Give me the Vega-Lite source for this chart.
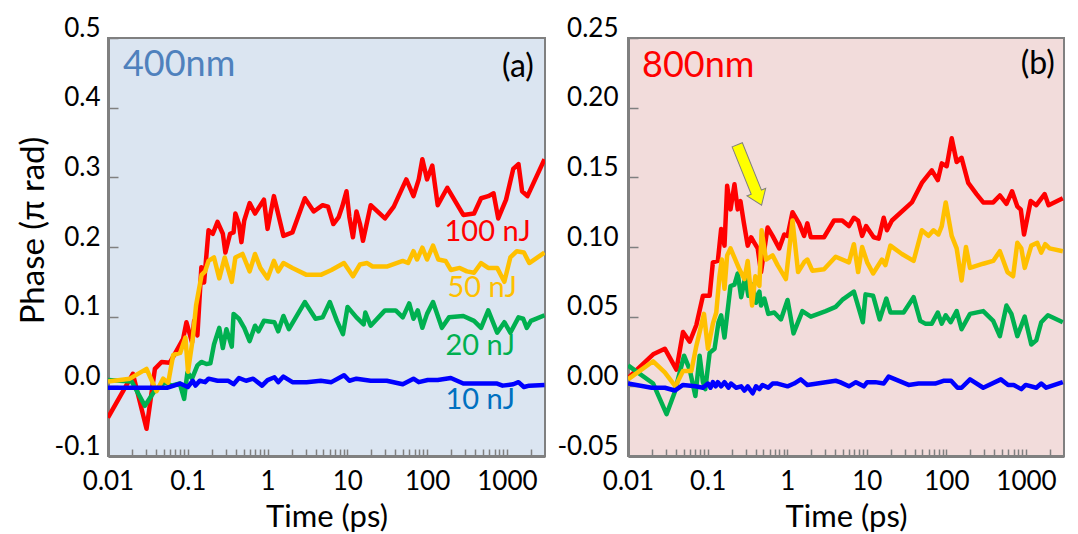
{
  "$schema": "https://vega.github.io/schema/vega-lite/v6.json",
  "padding": {"left": 16, "top": 14, "right": 5, "bottom": 0},
  "background": "white",
  "spacing": 9,
  "config": {
    "font": "Lato",
    "view": {"stroke": "#808080", "strokeWidth": 2},
    "axis": {
      "grid": false,
      "domainColor": "#808080",
      "domainWidth": 3,
      "tickColor": "#808080",
      "tickWidth": 1.5,
      "labelColor": "black",
      "titleColor": "black",
      "labelFont": "Lato",
      "titleFont": "Lato",
      "labelFontSize": 26,
      "titleFontSize": 31,
      "titleFontWeight": "normal"
    }
  },
  "datasets": {
    "curves": [
      {"panel":"400nm","series":"100 nJ","time":0.01,"phase":-0.045},
      {"panel":"400nm","series":"100 nJ","time":0.0205,"phase":0.018},
      {"panel":"400nm","series":"100 nJ","time":0.0304,"phase":-0.061},
      {"panel":"400nm","series":"100 nJ","time":0.0387,"phase":0.025},
      {"panel":"400nm","series":"100 nJ","time":0.0469,"phase":0.035},
      {"panel":"400nm","series":"100 nJ","time":0.0596,"phase":0.034},
      {"panel":"400nm","series":"100 nJ","time":0.0722,"phase":0.051},
      {"panel":"400nm","series":"100 nJ","time":0.0874,"phase":0.068},
      {"panel":"400nm","series":"100 nJ","time":0.0962,"phase":0.092},
      {"panel":"400nm","series":"100 nJ","time":0.113,"phase":0.063},
      {"panel":"400nm","series":"100 nJ","time":0.12,"phase":0.094},
      {"panel":"400nm","series":"100 nJ","time":0.132,"phase":0.073},
      {"panel":"400nm","series":"100 nJ","time":0.148,"phase":0.171},
      {"panel":"400nm","series":"100 nJ","time":0.16,"phase":0.149},
      {"panel":"400nm","series":"100 nJ","time":0.182,"phase":0.224},
      {"panel":"400nm","series":"100 nJ","time":0.206,"phase":0.219},
      {"panel":"400nm","series":"100 nJ","time":0.236,"phase":0.236},
      {"panel":"400nm","series":"100 nJ","time":0.275,"phase":0.219},
      {"panel":"400nm","series":"100 nJ","time":0.296,"phase":0.192},
      {"panel":"400nm","series":"100 nJ","time":0.339,"phase":0.219},
      {"panel":"400nm","series":"100 nJ","time":0.375,"phase":0.221},
      {"panel":"400nm","series":"100 nJ","time":0.395,"phase":0.248},
      {"panel":"400nm","series":"100 nJ","time":0.438,"phase":0.233},
      {"panel":"400nm","series":"100 nJ","time":0.47,"phase":0.207},
      {"panel":"400nm","series":"100 nJ","time":0.51,"phase":0.238},
      {"panel":"400nm","series":"100 nJ","time":0.596,"phase":0.263},
      {"panel":"400nm","series":"100 nJ","time":0.696,"phase":0.248},
      {"panel":"400nm","series":"100 nJ","time":0.9,"phase":0.268},
      {"panel":"400nm","series":"100 nJ","time":1.0,"phase":0.226},
      {"panel":"400nm","series":"100 nJ","time":1.2,"phase":0.273},
      {"panel":"400nm","series":"100 nJ","time":1.58,"phase":0.216},
      {"panel":"400nm","series":"100 nJ","time":2.05,"phase":0.221},
      {"panel":"400nm","series":"100 nJ","time":2.93,"phase":0.27},
      {"panel":"400nm","series":"100 nJ","time":3.79,"phase":0.251},
      {"panel":"400nm","series":"100 nJ","time":4.9,"phase":0.26},
      {"panel":"400nm","series":"100 nJ","time":5.72,"phase":0.258},
      {"panel":"400nm","series":"100 nJ","time":6.67,"phase":0.233},
      {"panel":"400nm","series":"100 nJ","time":7.79,"phase":0.243},
      {"panel":"400nm","series":"100 nJ","time":8.63,"phase":0.258},
      {"panel":"400nm","series":"100 nJ","time":9.75,"phase":0.28},
      {"panel":"400nm","series":"100 nJ","time":10.6,"phase":0.243},
      {"panel":"400nm","series":"100 nJ","time":11.75,"phase":0.214},
      {"panel":"400nm","series":"100 nJ","time":13.0,"phase":0.251},
      {"panel":"400nm","series":"100 nJ","time":14.4,"phase":0.233},
      {"panel":"400nm","series":"100 nJ","time":15.7,"phase":0.209},
      {"panel":"400nm","series":"100 nJ","time":19.6,"phase":0.26},
      {"panel":"400nm","series":"100 nJ","time":29.6,"phase":0.241},
      {"panel":"400nm","series":"100 nJ","time":38.2,"phase":0.258},
      {"panel":"400nm","series":"100 nJ","time":54.8,"phase":0.297},
      {"panel":"400nm","series":"100 nJ","time":67.4,"phase":0.273},
      {"panel":"400nm","series":"100 nJ","time":78.5,"phase":0.297},
      {"panel":"400nm","series":"100 nJ","time":87.1,"phase":0.326},
      {"panel":"400nm","series":"100 nJ","time":99.7,"phase":0.297},
      {"panel":"400nm","series":"100 nJ","time":116,"phase":0.317},
      {"panel":"400nm","series":"100 nJ","time":135.7,"phase":0.26},
      {"panel":"400nm","series":"100 nJ","time":179,"phase":0.285},
      {"panel":"400nm","series":"100 nJ","time":284,"phase":0.246},
      {"panel":"400nm","series":"100 nJ","time":387,"phase":0.248},
      {"panel":"400nm","series":"100 nJ","time":474,"phase":0.27},
      {"panel":"400nm","series":"100 nJ","time":583,"phase":0.273},
      {"panel":"400nm","series":"100 nJ","time":680,"phase":0.277},
      {"panel":"400nm","series":"100 nJ","time":778,"phase":0.241},
      {"panel":"400nm","series":"100 nJ","time":975,"phase":0.268},
      {"panel":"400nm","series":"100 nJ","time":1199,"phase":0.312},
      {"panel":"400nm","series":"100 nJ","time":1396,"phase":0.319},
      {"panel":"400nm","series":"100 nJ","time":1549,"phase":0.28},
      {"panel":"400nm","series":"100 nJ","time":1809,"phase":0.273},
      {"panel":"400nm","series":"100 nJ","time":2958,"phase":0.326},

      {"panel":"400nm","series":"20 nJ","time":0.01,"phase":0.009},
      {"panel":"400nm","series":"20 nJ","time":0.0198,"phase":0.007},
      {"panel":"400nm","series":"20 nJ","time":0.029,"phase":-0.028},
      {"panel":"400nm","series":"20 nJ","time":0.0387,"phase":-0.006},
      {"panel":"400nm","series":"20 nJ","time":0.0516,"phase":0.006},
      {"panel":"400nm","series":"20 nJ","time":0.0625,"phase":0.001},
      {"panel":"400nm","series":"20 nJ","time":0.0794,"phase":0.004},
      {"panel":"400nm","series":"20 nJ","time":0.09,"phase":-0.018},
      {"panel":"400nm","series":"20 nJ","time":0.099,"phase":0.02},
      {"panel":"400nm","series":"20 nJ","time":0.113,"phase":0.011},
      {"panel":"400nm","series":"20 nJ","time":0.132,"phase":0.03},
      {"panel":"400nm","series":"20 nJ","time":0.148,"phase":0.035},
      {"panel":"400nm","series":"20 nJ","time":0.171,"phase":0.032},
      {"panel":"400nm","series":"20 nJ","time":0.192,"phase":0.033},
      {"panel":"400nm","series":"20 nJ","time":0.213,"phase":0.06},
      {"panel":"400nm","series":"20 nJ","time":0.248,"phase":0.084},
      {"panel":"400nm","series":"20 nJ","time":0.275,"phase":0.055},
      {"panel":"400nm","series":"20 nJ","time":0.305,"phase":0.082},
      {"panel":"400nm","series":"20 nJ","time":0.356,"phase":0.057},
      {"panel":"400nm","series":"20 nJ","time":0.375,"phase":0.104},
      {"panel":"400nm","series":"20 nJ","time":0.438,"phase":0.097},
      {"panel":"400nm","series":"20 nJ","time":0.51,"phase":0.084},
      {"panel":"400nm","series":"20 nJ","time":0.596,"phase":0.065},
      {"panel":"400nm","series":"20 nJ","time":0.696,"phase":0.087},
      {"panel":"400nm","series":"20 nJ","time":0.77,"phase":0.079},
      {"panel":"400nm","series":"20 nJ","time":0.9,"phase":0.094},
      {"panel":"400nm","series":"20 nJ","time":1.22,"phase":0.092},
      {"panel":"400nm","series":"20 nJ","time":1.36,"phase":0.079},
      {"panel":"400nm","series":"20 nJ","time":1.58,"phase":0.101},
      {"panel":"400nm","series":"20 nJ","time":1.85,"phase":0.082},
      {"panel":"400nm","series":"20 nJ","time":2.93,"phase":0.121},
      {"panel":"400nm","series":"20 nJ","time":3.99,"phase":0.097},
      {"panel":"400nm","series":"20 nJ","time":4.9,"phase":0.099},
      {"panel":"400nm","series":"20 nJ","time":6.03,"phase":0.121},
      {"panel":"400nm","series":"20 nJ","time":7.4,"phase":0.094},
      {"panel":"400nm","series":"20 nJ","time":8.81,"phase":0.075},
      {"panel":"400nm","series":"20 nJ","time":10.06,"phase":0.114},
      {"panel":"400nm","series":"20 nJ","time":13.0,"phase":0.099},
      {"panel":"400nm","series":"20 nJ","time":16.0,"phase":0.089},
      {"panel":"400nm","series":"20 nJ","time":16.8,"phase":0.106},
      {"panel":"400nm","series":"20 nJ","time":19.6,"phase":0.087},
      {"panel":"400nm","series":"20 nJ","time":29.6,"phase":0.109},
      {"panel":"400nm","series":"20 nJ","time":40.3,"phase":0.109},
      {"panel":"400nm","series":"20 nJ","time":49.5,"phase":0.099},
      {"panel":"400nm","series":"20 nJ","time":59.6,"phase":0.119},
      {"panel":"400nm","series":"20 nJ","time":67.4,"phase":0.097},
      {"panel":"400nm","series":"20 nJ","time":76.3,"phase":0.109},
      {"panel":"400nm","series":"20 nJ","time":87.1,"phase":0.084},
      {"panel":"400nm","series":"20 nJ","time":99.7,"phase":0.104},
      {"panel":"400nm","series":"20 nJ","time":118.5,"phase":0.121},
      {"panel":"400nm","series":"20 nJ","time":153,"phase":0.084},
      {"panel":"400nm","series":"20 nJ","time":188,"phase":0.099},
      {"panel":"400nm","series":"20 nJ","time":284,"phase":0.101},
      {"panel":"400nm","series":"20 nJ","time":387,"phase":0.094},
      {"panel":"400nm","series":"20 nJ","time":474,"phase":0.084},
      {"panel":"400nm","series":"20 nJ","time":583,"phase":0.109},
      {"panel":"400nm","series":"20 nJ","time":754,"phase":0.077},
      {"panel":"400nm","series":"20 nJ","time":928,"phase":0.092},
      {"panel":"400nm","series":"20 nJ","time":1103,"phase":0.077},
      {"panel":"400nm","series":"20 nJ","time":1396,"phase":0.099},
      {"panel":"400nm","series":"20 nJ","time":1600,"phase":0.097},
      {"panel":"400nm","series":"20 nJ","time":1774,"phase":0.084},
      {"panel":"400nm","series":"20 nJ","time":2000,"phase":0.094},
      {"panel":"400nm","series":"20 nJ","time":2958,"phase":0.102},

      {"panel":"400nm","series":"50 nJ","time":0.01,"phase":0.007},
      {"panel":"400nm","series":"50 nJ","time":0.0188,"phase":0.011},
      {"panel":"400nm","series":"50 nJ","time":0.0304,"phase":0.025},
      {"panel":"400nm","series":"50 nJ","time":0.0406,"phase":-0.007},
      {"panel":"400nm","series":"50 nJ","time":0.0492,"phase":0.011},
      {"panel":"400nm","series":"50 nJ","time":0.0568,"phase":0.005},
      {"panel":"400nm","series":"50 nJ","time":0.0656,"phase":0.045},
      {"panel":"400nm","series":"50 nJ","time":0.0803,"phase":0.048},
      {"panel":"400nm","series":"50 nJ","time":0.0935,"phase":0.07},
      {"panel":"400nm","series":"50 nJ","time":0.1006,"phase":0.021},
      {"panel":"400nm","series":"50 nJ","time":0.115,"phase":0.067},
      {"panel":"400nm","series":"50 nJ","time":0.127,"phase":0.116},
      {"panel":"400nm","series":"50 nJ","time":0.149,"phase":0.16},
      {"panel":"400nm","series":"50 nJ","time":0.165,"phase":0.165},
      {"panel":"400nm","series":"50 nJ","time":0.182,"phase":0.18},
      {"panel":"400nm","series":"50 nJ","time":0.213,"phase":0.185},
      {"panel":"400nm","series":"50 nJ","time":0.248,"phase":0.155},
      {"panel":"400nm","series":"50 nJ","time":0.29,"phase":0.185},
      {"panel":"400nm","series":"50 nJ","time":0.356,"phase":0.15},
      {"panel":"400nm","series":"50 nJ","time":0.395,"phase":0.185},
      {"panel":"400nm","series":"50 nJ","time":0.485,"phase":0.19},
      {"panel":"400nm","series":"50 nJ","time":0.596,"phase":0.165},
      {"panel":"400nm","series":"50 nJ","time":0.696,"phase":0.19},
      {"panel":"400nm","series":"50 nJ","time":0.811,"phase":0.17},
      {"panel":"400nm","series":"50 nJ","time":1.0,"phase":0.155},
      {"panel":"400nm","series":"50 nJ","time":1.2,"phase":0.18},
      {"panel":"400nm","series":"50 nJ","time":1.36,"phase":0.165},
      {"panel":"400nm","series":"50 nJ","time":1.58,"phase":0.177},
      {"panel":"400nm","series":"50 nJ","time":2.05,"phase":0.17},
      {"panel":"400nm","series":"50 nJ","time":3.08,"phase":0.16},
      {"panel":"400nm","series":"50 nJ","time":4.65,"phase":0.16},
      {"panel":"400nm","series":"50 nJ","time":6.32,"phase":0.167},
      {"panel":"400nm","series":"50 nJ","time":9.07,"phase":0.177},
      {"panel":"400nm","series":"50 nJ","time":11.75,"phase":0.158},
      {"panel":"400nm","series":"50 nJ","time":14.4,"phase":0.175},
      {"panel":"400nm","series":"50 nJ","time":17.7,"phase":0.177},
      {"panel":"400nm","series":"50 nJ","time":20.7,"phase":0.172},
      {"panel":"400nm","series":"50 nJ","time":31.2,"phase":0.172},
      {"panel":"400nm","series":"50 nJ","time":49.5,"phase":0.18},
      {"panel":"400nm","series":"50 nJ","time":57.7,"phase":0.177},
      {"panel":"400nm","series":"50 nJ","time":67.4,"phase":0.194},
      {"panel":"400nm","series":"50 nJ","time":74.8,"phase":0.182},
      {"panel":"400nm","series":"50 nJ","time":87.1,"phase":0.199},
      {"panel":"400nm","series":"50 nJ","time":99.7,"phase":0.182},
      {"panel":"400nm","series":"50 nJ","time":118.5,"phase":0.202},
      {"panel":"400nm","series":"50 nJ","time":138,"phase":0.182},
      {"panel":"400nm","series":"50 nJ","time":170,"phase":0.18},
      {"panel":"400nm","series":"50 nJ","time":198,"phase":0.167},
      {"panel":"400nm","series":"50 nJ","time":256,"phase":0.17},
      {"panel":"400nm","series":"50 nJ","time":315,"phase":0.165},
      {"panel":"400nm","series":"50 nJ","time":387,"phase":0.163},
      {"panel":"400nm","series":"50 nJ","time":474,"phase":0.177},
      {"panel":"400nm","series":"50 nJ","time":583,"phase":0.17},
      {"panel":"400nm","series":"50 nJ","time":754,"phase":0.17},
      {"panel":"400nm","series":"50 nJ","time":928,"phase":0.15},
      {"panel":"400nm","series":"50 nJ","time":1103,"phase":0.185},
      {"panel":"400nm","series":"50 nJ","time":1330,"phase":0.194},
      {"panel":"400nm","series":"50 nJ","time":1632,"phase":0.192},
      {"panel":"400nm","series":"50 nJ","time":1905,"phase":0.177},
      {"panel":"400nm","series":"50 nJ","time":2958,"phase":0.192},

      {"panel":"400nm","series":"10 nJ","time":0.01,"phase":-0.002},
      {"panel":"400nm","series":"10 nJ","time":0.056,"phase":-0.002},
      {"panel":"400nm","series":"10 nJ","time":0.08,"phase":0.004},
      {"panel":"400nm","series":"10 nJ","time":0.1,"phase":-0.001},
      {"panel":"400nm","series":"10 nJ","time":0.115,"phase":0.008},
      {"panel":"400nm","series":"10 nJ","time":0.125,"phase":0.001},
      {"panel":"400nm","series":"10 nJ","time":0.141,"phase":0.008},
      {"panel":"400nm","series":"10 nJ","time":0.165,"phase":0.006},
      {"panel":"400nm","series":"10 nJ","time":0.182,"phase":0.011},
      {"panel":"400nm","series":"10 nJ","time":0.236,"phase":0.008},
      {"panel":"400nm","series":"10 nJ","time":0.322,"phase":0.008},
      {"panel":"400nm","series":"10 nJ","time":0.375,"phase":0.003},
      {"panel":"400nm","series":"10 nJ","time":0.438,"phase":0.012},
      {"panel":"400nm","series":"10 nJ","time":0.537,"phase":0.008},
      {"panel":"400nm","series":"10 nJ","time":0.66,"phase":0.011},
      {"panel":"400nm","series":"10 nJ","time":0.853,"phase":0.001},
      {"panel":"400nm","series":"10 nJ","time":1.0,"phase":0.009},
      {"panel":"400nm","series":"10 nJ","time":1.22,"phase":0.013},
      {"panel":"400nm","series":"10 nJ","time":1.36,"phase":0.006},
      {"panel":"400nm","series":"10 nJ","time":1.58,"phase":0.014},
      {"panel":"400nm","series":"10 nJ","time":2.05,"phase":0.006},
      {"panel":"400nm","series":"10 nJ","time":3.08,"phase":0.006},
      {"panel":"400nm","series":"10 nJ","time":4.65,"phase":0.008},
      {"panel":"400nm","series":"10 nJ","time":6.3,"phase":0.006},
      {"panel":"400nm","series":"10 nJ","time":9.07,"phase":0.016},
      {"panel":"400nm","series":"10 nJ","time":10.6,"phase":0.008},
      {"panel":"400nm","series":"10 nJ","time":13.0,"phase":0.011},
      {"panel":"400nm","series":"10 nJ","time":19.6,"phase":0.008},
      {"panel":"400nm","series":"10 nJ","time":31.2,"phase":0.008},
      {"panel":"400nm","series":"10 nJ","time":49.5,"phase":0.003},
      {"panel":"400nm","series":"10 nJ","time":67.4,"phase":0.011},
      {"panel":"400nm","series":"10 nJ","time":78.5,"phase":0.006},
      {"panel":"400nm","series":"10 nJ","time":101.7,"phase":0.009},
      {"panel":"400nm","series":"10 nJ","time":135.7,"phase":0.009},
      {"panel":"400nm","series":"10 nJ","time":198,"phase":0.012},
      {"panel":"400nm","series":"10 nJ","time":284,"phase":0.004},
      {"panel":"400nm","series":"10 nJ","time":474,"phase":0.004},
      {"panel":"400nm","series":"10 nJ","time":754,"phase":0.004},
      {"panel":"400nm","series":"10 nJ","time":881,"phase":0.001},
      {"panel":"400nm","series":"10 nJ","time":1199,"phase":0.003},
      {"panel":"400nm","series":"10 nJ","time":1396,"phase":0.006},
      {"panel":"400nm","series":"10 nJ","time":1632,"phase":-0.001},
      {"panel":"400nm","series":"10 nJ","time":1905,"phase":0.001},
      {"panel":"400nm","series":"10 nJ","time":2958,"phase":0.002},

      {"panel":"800nm","series":"100 nJ","time":0.01,"phase":0.006},
      {"panel":"800nm","series":"100 nJ","time":0.0207,"phase":0.023},
      {"panel":"800nm","series":"100 nJ","time":0.029,"phase":0.027},
      {"panel":"800nm","series":"100 nJ","time":0.0406,"phase":0.012},
      {"panel":"800nm","series":"100 nJ","time":0.0491,"phase":0.039},
      {"panel":"800nm","series":"100 nJ","time":0.0596,"phase":0.032},
      {"panel":"800nm","series":"100 nJ","time":0.0722,"phase":0.044},
      {"panel":"800nm","series":"100 nJ","time":0.0874,"phase":0.065},
      {"panel":"800nm","series":"100 nJ","time":0.106,"phase":0.065},
      {"panel":"800nm","series":"100 nJ","time":0.1165,"phase":0.089},
      {"panel":"800nm","series":"100 nJ","time":0.1345,"phase":0.09},
      {"panel":"800nm","series":"100 nJ","time":0.148,"phase":0.113},
      {"panel":"800nm","series":"100 nJ","time":0.163,"phase":0.101},
      {"panel":"800nm","series":"100 nJ","time":0.176,"phase":0.144},
      {"panel":"800nm","series":"100 nJ","time":0.194,"phase":0.127},
      {"panel":"800nm","series":"100 nJ","time":0.2175,"phase":0.145},
      {"panel":"800nm","series":"100 nJ","time":0.239,"phase":0.127},
      {"panel":"800nm","series":"100 nJ","time":0.2585,"phase":0.133},
      {"panel":"800nm","series":"100 nJ","time":0.284,"phase":0.118},
      {"panel":"800nm","series":"100 nJ","time":0.319,"phase":0.101},
      {"panel":"800nm","series":"100 nJ","time":0.352,"phase":0.107},
      {"panel":"800nm","series":"100 nJ","time":0.387,"phase":0.103},
      {"panel":"800nm","series":"100 nJ","time":0.426,"phase":0.099},
      {"panel":"800nm","series":"100 nJ","time":0.469,"phase":0.082},
      {"panel":"800nm","series":"100 nJ","time":0.567,"phase":0.114},
      {"panel":"800nm","series":"100 nJ","time":0.655,"phase":0.108},
      {"panel":"800nm","series":"100 nJ","time":0.794,"phase":0.099},
      {"panel":"800nm","series":"100 nJ","time":0.917,"phase":0.109},
      {"panel":"800nm","series":"100 nJ","time":1.01,"phase":0.108},
      {"panel":"800nm","series":"100 nJ","time":1.165,"phase":0.125},
      {"panel":"800nm","series":"100 nJ","time":1.41,"phase":0.117},
      {"panel":"800nm","series":"100 nJ","time":1.63,"phase":0.108},
      {"panel":"800nm","series":"100 nJ","time":1.79,"phase":0.117},
      {"panel":"800nm","series":"100 nJ","time":1.98,"phase":0.107},
      {"panel":"800nm","series":"100 nJ","time":2.9,"phase":0.107},
      {"panel":"800nm","series":"100 nJ","time":3.87,"phase":0.119},
      {"panel":"800nm","series":"100 nJ","time":4.91,"phase":0.119},
      {"panel":"800nm","series":"100 nJ","time":5.96,"phase":0.115},
      {"panel":"800nm","series":"100 nJ","time":6.88,"phase":0.121},
      {"panel":"800nm","series":"100 nJ","time":7.78,"phase":0.119},
      {"panel":"800nm","series":"100 nJ","time":8.73,"phase":0.108},
      {"panel":"800nm","series":"100 nJ","time":9.8,"phase":0.115},
      {"panel":"800nm","series":"100 nJ","time":12.2,"phase":0.107},
      {"panel":"800nm","series":"100 nJ","time":14.1,"phase":0.106},
      {"panel":"800nm","series":"100 nJ","time":16.3,"phase":0.121},
      {"panel":"800nm","series":"100 nJ","time":17.9,"phase":0.112},
      {"panel":"800nm","series":"100 nJ","time":20.7,"phase":0.119},
      {"panel":"800nm","series":"100 nJ","time":36.8,"phase":0.132},
      {"panel":"800nm","series":"100 nJ","time":49.1,"phase":0.146},
      {"panel":"800nm","series":"100 nJ","time":65.5,"phase":0.155},
      {"panel":"800nm","series":"100 nJ","time":77.9,"phase":0.148},
      {"panel":"800nm","series":"100 nJ","time":87.4,"phase":0.16},
      {"panel":"800nm","series":"100 nJ","time":100.9,"phase":0.158},
      {"panel":"800nm","series":"100 nJ","time":116.5,"phase":0.178},
      {"panel":"800nm","series":"100 nJ","time":134.5,"phase":0.161},
      {"panel":"800nm","series":"100 nJ","time":155,"phase":0.164},
      {"panel":"800nm","series":"100 nJ","time":188,"phase":0.146},
      {"panel":"800nm","series":"100 nJ","time":239,"phase":0.138},
      {"panel":"800nm","series":"100 nJ","time":290,"phase":0.132},
      {"panel":"800nm","series":"100 nJ","time":387,"phase":0.132},
      {"panel":"800nm","series":"100 nJ","time":469,"phase":0.137},
      {"panel":"800nm","series":"100 nJ","time":568,"phase":0.131},
      {"panel":"800nm","series":"100 nJ","time":668,"phase":0.14},
      {"panel":"800nm","series":"100 nJ","time":778,"phase":0.129},
      {"panel":"800nm","series":"100 nJ","time":859,"phase":0.127},
      {"panel":"800nm","series":"100 nJ","time":944,"phase":0.109},
      {"panel":"800nm","series":"100 nJ","time":1145,"phase":0.133},
      {"panel":"800nm","series":"100 nJ","time":1346,"phase":0.13},
      {"panel":"800nm","series":"100 nJ","time":1713,"phase":0.138},
      {"panel":"800nm","series":"100 nJ","time":1921,"phase":0.13},
      {"panel":"800nm","series":"100 nJ","time":2900,"phase":0.135},

      {"panel":"800nm","series":"20 nJ","time":0.01,"phase":0.015},
      {"panel":"800nm","series":"20 nJ","time":0.0207,"phase":0.002},
      {"panel":"800nm","series":"20 nJ","time":0.0305,"phase":-0.02},
      {"panel":"800nm","series":"20 nJ","time":0.0387,"phase":-0.004},
      {"panel":"800nm","series":"20 nJ","time":0.0506,"phase":0.022},
      {"panel":"800nm","series":"20 nJ","time":0.0596,"phase":0.012},
      {"panel":"800nm","series":"20 nJ","time":0.0702,"phase":-0.007},
      {"panel":"800nm","series":"20 nJ","time":0.0794,"phase":0.022},
      {"panel":"800nm","series":"20 nJ","time":0.0874,"phase":0.003},
      {"panel":"800nm","series":"20 nJ","time":0.0935,"phase":-0.002},
      {"panel":"800nm","series":"20 nJ","time":0.106,"phase":0.024},
      {"panel":"800nm","series":"20 nJ","time":0.1223,"phase":0.027},
      {"panel":"800nm","series":"20 nJ","time":0.137,"phase":0.046},
      {"panel":"800nm","series":"20 nJ","time":0.148,"phase":0.051},
      {"panel":"800nm","series":"20 nJ","time":0.163,"phase":0.035},
      {"panel":"800nm","series":"20 nJ","time":0.194,"phase":0.072},
      {"panel":"800nm","series":"20 nJ","time":0.2175,"phase":0.073},
      {"panel":"800nm","series":"20 nJ","time":0.239,"phase":0.081},
      {"panel":"800nm","series":"20 nJ","time":0.264,"phase":0.064},
      {"panel":"800nm","series":"20 nJ","time":0.296,"phase":0.078},
      {"panel":"800nm","series":"20 nJ","time":0.3255,"phase":0.065},
      {"panel":"800nm","series":"20 nJ","time":0.368,"phase":0.073},
      {"panel":"800nm","series":"20 nJ","time":0.406,"phase":0.06},
      {"panel":"800nm","series":"20 nJ","time":0.447,"phase":0.068},
      {"panel":"800nm","series":"20 nJ","time":0.469,"phase":0.058},
      {"panel":"800nm","series":"20 nJ","time":0.516,"phase":0.063},
      {"panel":"800nm","series":"20 nJ","time":0.579,"phase":0.052},
      {"panel":"800nm","series":"20 nJ","time":0.688,"phase":0.053},
      {"panel":"800nm","series":"20 nJ","time":0.834,"phase":0.048},
      {"panel":"800nm","series":"20 nJ","time":1.01,"phase":0.062},
      {"panel":"800nm","series":"20 nJ","time":1.2,"phase":0.038},
      {"panel":"800nm","series":"20 nJ","time":1.55,"phase":0.054},
      {"panel":"800nm","series":"20 nJ","time":1.98,"phase":0.05},
      {"panel":"800nm","series":"20 nJ","time":3.05,"phase":0.054},
      {"panel":"800nm","series":"20 nJ","time":4.06,"phase":0.057},
      {"panel":"800nm","series":"20 nJ","time":4.91,"phase":0.062},
      {"panel":"800nm","series":"20 nJ","time":6.88,"phase":0.068},
      {"panel":"800nm","series":"20 nJ","time":8.91,"phase":0.046},
      {"panel":"800nm","series":"20 nJ","time":9.64,"phase":0.066},
      {"panel":"800nm","series":"20 nJ","time":12.0,"phase":0.065},
      {"panel":"800nm","series":"20 nJ","time":14.5,"phase":0.048},
      {"panel":"800nm","series":"20 nJ","time":17.6,"phase":0.063},
      {"panel":"800nm","series":"20 nJ","time":19.8,"phase":0.053},
      {"panel":"800nm","series":"20 nJ","time":29,"phase":0.053},
      {"panel":"800nm","series":"20 nJ","time":38.7,"phase":0.064},
      {"panel":"800nm","series":"20 nJ","time":46.9,"phase":0.047},
      {"panel":"800nm","series":"20 nJ","time":54.2,"phase":0.045},
      {"panel":"800nm","series":"20 nJ","time":65.5,"phase":0.045},
      {"panel":"800nm","series":"20 nJ","time":77.9,"phase":0.053},
      {"panel":"800nm","series":"20 nJ","time":87.4,"phase":0.045},
      {"panel":"800nm","series":"20 nJ","time":98,"phase":0.051},
      {"panel":"800nm","series":"20 nJ","time":113,"phase":0.046},
      {"panel":"800nm","series":"20 nJ","time":134.5,"phase":0.054},
      {"panel":"800nm","series":"20 nJ","time":155,"phase":0.041},
      {"panel":"800nm","series":"20 nJ","time":198,"phase":0.052},
      {"panel":"800nm","series":"20 nJ","time":290,"phase":0.054},
      {"panel":"800nm","series":"20 nJ","time":387,"phase":0.047},
      {"panel":"800nm","series":"20 nJ","time":469,"phase":0.036},
      {"panel":"800nm","series":"20 nJ","time":568,"phase":0.058},
      {"panel":"800nm","series":"20 nJ","time":655,"phase":0.052},
      {"panel":"800nm","series":"20 nJ","time":778,"phase":0.036},
      {"panel":"800nm","series":"20 nJ","time":963,"phase":0.05},
      {"panel":"800nm","series":"20 nJ","time":1165,"phase":0.03},
      {"panel":"800nm","series":"20 nJ","time":1346,"phase":0.033},
      {"panel":"800nm","series":"20 nJ","time":1553,"phase":0.046},
      {"panel":"800nm","series":"20 nJ","time":1884,"phase":0.051},
      {"panel":"800nm","series":"20 nJ","time":2900,"phase":0.046},

      {"panel":"800nm","series":"50 nJ","time":0.01,"phase":0.005},
      {"panel":"800nm","series":"50 nJ","time":0.0207,"phase":0.018},
      {"panel":"800nm","series":"50 nJ","time":0.029,"phase":0.01},
      {"panel":"800nm","series":"50 nJ","time":0.0394,"phase":0.0},
      {"panel":"800nm","series":"50 nJ","time":0.0491,"phase":0.011},
      {"panel":"800nm","series":"50 nJ","time":0.0625,"phase":0.011},
      {"panel":"800nm","series":"50 nJ","time":0.0722,"phase":0.029},
      {"panel":"800nm","series":"50 nJ","time":0.09,"phase":0.052},
      {"panel":"800nm","series":"50 nJ","time":0.101,"phase":0.027},
      {"panel":"800nm","series":"50 nJ","time":0.1165,"phase":0.045},
      {"panel":"800nm","series":"50 nJ","time":0.1285,"phase":0.053},
      {"panel":"800nm","series":"50 nJ","time":0.141,"phase":0.079},
      {"panel":"800nm","series":"50 nJ","time":0.151,"phase":0.091},
      {"panel":"800nm","series":"50 nJ","time":0.163,"phase":0.07},
      {"panel":"800nm","series":"50 nJ","time":0.176,"phase":0.094},
      {"panel":"800nm","series":"50 nJ","time":0.194,"phase":0.099},
      {"panel":"800nm","series":"50 nJ","time":0.251,"phase":0.084},
      {"panel":"800nm","series":"50 nJ","time":0.29,"phase":0.077},
      {"panel":"800nm","series":"50 nJ","time":0.319,"phase":0.09},
      {"panel":"800nm","series":"50 nJ","time":0.362,"phase":0.058},
      {"panel":"800nm","series":"50 nJ","time":0.398,"phase":0.079},
      {"panel":"800nm","series":"50 nJ","time":0.447,"phase":0.072},
      {"panel":"800nm","series":"50 nJ","time":0.477,"phase":0.112},
      {"panel":"800nm","series":"50 nJ","time":0.542,"phase":0.091},
      {"panel":"800nm","series":"50 nJ","time":0.655,"phase":0.094},
      {"panel":"800nm","series":"50 nJ","time":0.757,"phase":0.087},
      {"panel":"800nm","series":"50 nJ","time":0.963,"phase":0.077},
      {"panel":"800nm","series":"50 nJ","time":1.165,"phase":0.119},
      {"panel":"800nm","series":"50 nJ","time":1.37,"phase":0.082},
      {"panel":"800nm","series":"50 nJ","time":1.63,"phase":0.089},
      {"panel":"800nm","series":"50 nJ","time":1.79,"phase":0.091},
      {"panel":"800nm","series":"50 nJ","time":2.07,"phase":0.083},
      {"panel":"800nm","series":"50 nJ","time":2.9,"phase":0.084},
      {"panel":"800nm","series":"50 nJ","time":4.06,"phase":0.093},
      {"panel":"800nm","series":"50 nJ","time":5.96,"phase":0.089},
      {"panel":"800nm","series":"50 nJ","time":6.88,"phase":0.102},
      {"panel":"800nm","series":"50 nJ","time":7.78,"phase":0.082},
      {"panel":"800nm","series":"50 nJ","time":8.73,"phase":0.1},
      {"panel":"800nm","series":"50 nJ","time":10.1,"phase":0.089},
      {"panel":"800nm","series":"50 nJ","time":12.0,"phase":0.081},
      {"panel":"800nm","series":"50 nJ","time":15.5,"phase":0.091},
      {"panel":"800nm","series":"50 nJ","time":17.1,"phase":0.087},
      {"panel":"800nm","series":"50 nJ","time":19.8,"phase":0.101},
      {"panel":"800nm","series":"50 nJ","time":27.6,"phase":0.095},
      {"panel":"800nm","series":"50 nJ","time":38.7,"phase":0.09},
      {"panel":"800nm","series":"50 nJ","time":49.1,"phase":0.112},
      {"panel":"800nm","series":"50 nJ","time":59.6,"phase":0.108},
      {"panel":"800nm","series":"50 nJ","time":68.8,"phase":0.112},
      {"panel":"800nm","series":"50 nJ","time":79.4,"phase":0.109},
      {"panel":"800nm","series":"50 nJ","time":87.4,"phase":0.115},
      {"panel":"800nm","series":"50 nJ","time":98,"phase":0.132},
      {"panel":"800nm","series":"50 nJ","time":116.5,"phase":0.108},
      {"panel":"800nm","series":"50 nJ","time":134.5,"phase":0.099},
      {"panel":"800nm","series":"50 nJ","time":155,"phase":0.076},
      {"panel":"800nm","series":"50 nJ","time":176,"phase":0.1},
      {"panel":"800nm","series":"50 nJ","time":198,"phase":0.085},
      {"panel":"800nm","series":"50 nJ","time":290,"phase":0.088},
      {"panel":"800nm","series":"50 nJ","time":387,"phase":0.09},
      {"panel":"800nm","series":"50 nJ","time":469,"phase":0.097},
      {"panel":"800nm","series":"50 nJ","time":584,"phase":0.082},
      {"panel":"800nm","series":"50 nJ","time":688,"phase":0.079},
      {"panel":"800nm","series":"50 nJ","time":778,"phase":0.103},
      {"panel":"800nm","series":"50 nJ","time":873,"phase":0.099},
      {"panel":"800nm","series":"50 nJ","time":963,"phase":0.085},
      {"panel":"800nm","series":"50 nJ","time":1165,"phase":0.101},
      {"panel":"800nm","series":"50 nJ","time":1384,"phase":0.103},
      {"panel":"800nm","series":"50 nJ","time":1553,"phase":0.096},
      {"panel":"800nm","series":"50 nJ","time":1742,"phase":0.102},
      {"panel":"800nm","series":"50 nJ","time":1977,"phase":0.099},
      {"panel":"800nm","series":"50 nJ","time":2900,"phase":0.097},

      {"panel":"800nm","series":"10 nJ","time":0.01,"phase":0.002},
      {"panel":"800nm","series":"10 nJ","time":0.0198,"phase":-0.001},
      {"panel":"800nm","series":"10 nJ","time":0.029,"phase":-0.001},
      {"panel":"800nm","series":"10 nJ","time":0.0387,"phase":-0.003},
      {"panel":"800nm","series":"10 nJ","time":0.0491,"phase":0.001},
      {"panel":"800nm","series":"10 nJ","time":0.0702,"phase":0.0},
      {"panel":"800nm","series":"10 nJ","time":0.0874,"phase":-0.001},
      {"panel":"800nm","series":"10 nJ","time":0.101,"phase":0.002},
      {"panel":"800nm","series":"10 nJ","time":0.109,"phase":-0.001},
      {"panel":"800nm","series":"10 nJ","time":0.1165,"phase":0.003},
      {"panel":"800nm","series":"10 nJ","time":0.126,"phase":0.0},
      {"panel":"800nm","series":"10 nJ","time":0.1345,"phase":0.003},
      {"panel":"800nm","series":"10 nJ","time":0.148,"phase":0.0},
      {"panel":"800nm","series":"10 nJ","time":0.163,"phase":0.003},
      {"panel":"800nm","series":"10 nJ","time":0.183,"phase":-0.001},
      {"panel":"800nm","series":"10 nJ","time":0.1965,"phase":0.002},
      {"panel":"800nm","series":"10 nJ","time":0.2285,"phase":-0.001},
      {"panel":"800nm","series":"10 nJ","time":0.264,"phase":0.0},
      {"panel":"800nm","series":"10 nJ","time":0.29,"phase":-0.003},
      {"panel":"800nm","series":"10 nJ","time":0.319,"phase":0.0},
      {"panel":"800nm","series":"10 nJ","time":0.368,"phase":-0.005},
      {"panel":"800nm","series":"10 nJ","time":0.406,"phase":0.0},
      {"panel":"800nm","series":"10 nJ","time":0.447,"phase":-0.002},
      {"panel":"800nm","series":"10 nJ","time":0.49,"phase":0.001},
      {"panel":"800nm","series":"10 nJ","time":0.579,"phase":-0.001},
      {"panel":"800nm","series":"10 nJ","time":0.655,"phase":0.002},
      {"panel":"800nm","series":"10 nJ","time":0.757,"phase":0.002},
      {"panel":"800nm","series":"10 nJ","time":1.01,"phase":0.0},
      {"panel":"800nm","series":"10 nJ","time":1.22,"phase":0.002},
      {"panel":"800nm","series":"10 nJ","time":1.48,"phase":0.005},
      {"panel":"800nm","series":"10 nJ","time":1.79,"phase":0.001},
      {"panel":"800nm","series":"10 nJ","time":4.06,"phase":0.004},
      {"panel":"800nm","series":"10 nJ","time":4.6,"phase":0.003},
      {"panel":"800nm","series":"10 nJ","time":5.96,"phase":0.0},
      {"panel":"800nm","series":"10 nJ","time":7.3,"phase":0.003},
      {"panel":"800nm","series":"10 nJ","time":9.17,"phase":0.0},
      {"panel":"800nm","series":"10 nJ","time":10.1,"phase":0.003},
      {"panel":"800nm","series":"10 nJ","time":12.8,"phase":0.003},
      {"panel":"800nm","series":"10 nJ","time":16.3,"phase":0.002},
      {"panel":"800nm","series":"10 nJ","time":18.8,"phase":0.007},
      {"panel":"800nm","series":"10 nJ","time":22.8,"phase":0.005},
      {"panel":"800nm","series":"10 nJ","time":33.5,"phase":0.001},
      {"panel":"800nm","series":"10 nJ","time":44.7,"phase":0.002},
      {"panel":"800nm","series":"10 nJ","time":72.2,"phase":0.002},
      {"panel":"800nm","series":"10 nJ","time":91.7,"phase":0.004},
      {"panel":"800nm","series":"10 nJ","time":114.5,"phase":0.004},
      {"panel":"800nm","series":"10 nJ","time":138,"phase":-0.001},
      {"panel":"800nm","series":"10 nJ","time":155,"phase":-0.001},
      {"panel":"800nm","series":"10 nJ","time":198,"phase":0.005},
      {"panel":"800nm","series":"10 nJ","time":290,"phase":-0.001},
      {"panel":"800nm","series":"10 nJ","time":483,"phase":0.005},
      {"panel":"800nm","series":"10 nJ","time":596,"phase":0.001},
      {"panel":"800nm","series":"10 nJ","time":700,"phase":0.001},
      {"panel":"800nm","series":"10 nJ","time":873,"phase":-0.002},
      {"panel":"800nm","series":"10 nJ","time":990,"phase":0.001},
      {"panel":"800nm","series":"10 nJ","time":1346,"phase":-0.001},
      {"panel":"800nm","series":"10 nJ","time":1553,"phase":0.002},
      {"panel":"800nm","series":"10 nJ","time":1794,"phase":-0.001},
      {"panel":"800nm","series":"10 nJ","time":2900,"phase":0.003}
    ]
  },
  "hconcat": [
    {
      "width": 437,
      "height": 418,
      "view": {"fill": "#dbe5f1", "stroke": "#808080", "strokeWidth": 2},
      "encoding": {
        "x": {
          "field": "time", "type": "quantitative",
          "scale": {"type": "log", "domain": [0.01, 3000], "nice": false},
          "axis": {
            "title": "Time (ps)",
            "values": [0.01,0.02,0.03,0.04,0.05,0.06,0.07,0.08,0.09,0.1,0.2,0.3,0.4,0.5,0.6,0.7,0.8,0.9,1,2,3,4,5,6,7,8,9,10,20,30,40,50,60,70,80,90,100,200,300,400,500,600,700,800,900,1000,2000],
            "format": "~g",
            "labelExpr": "indexof([0.01,0.1,1,10,100,1000], datum.value) >= 0 ? datum.label : ''",
            "labelOverlap": false,
            "labelFlush": false,
            "tickSize": -7,
            "labelPadding": 19,
            "titlePadding": 8
          }
        },
        "y": {
          "field": "phase", "type": "quantitative",
          "scale": {"domain": [-0.1, 0.5], "nice": false, "zero": false},
          "axis": {
            "title": "Phase (π rad)",
            "titleFontSize": 33,
            "titleY": 192,
            "values": [-0.1, 0, 0.1, 0.2, 0.3, 0.4, 0.5],
            "format": ".1f",
            "labelExpr": "replace(datum.label, '−', '-')",
            "tickSize": -10,
            "labelPadding": 18,
            "labelOffset": -10,
            "titlePadding": 4
          }
        }
      },
      "layer": [
        {
          "data": {"name": "curves"},
          "transform": [{"filter": "datum.panel === '400nm'"}],
          "mark": {"type": "line", "strokeWidth": 4.5, "clip": true, "strokeJoin": "round"},
          "encoding": {
            "color": {
              "field": "series", "type": "nominal",
              "scale": {"domain": ["100 nJ", "50 nJ", "20 nJ", "10 nJ"], "range": ["#ff0000", "#ffc000", "#00b050", "#0000ff"]},
              "legend": null
            }
          }
        },
        {
          "data": {"values": [{"time": 0.0154, "phase": 0.461, "label": "400nm"}]},
          "mark": {"type": "text", "align": "left", "baseline": "middle", "fontSize": 36, "color": "#4f81bd"},
          "encoding": {"text": {"field": "label"}}
        },
        {
          "data": {"values": [{"time": 2175, "phase": 0.458, "label": "(a)"}]},
          "mark": {"type": "text", "align": "right", "baseline": "middle", "fontSize": 32, "color": "black"},
          "encoding": {"text": {"field": "label"}}
        },
        {
          "data": {"values": [{"time": 1995, "phase": 0.2216, "label": "100 nJ"}]},
          "mark": {"type": "text", "align": "right", "baseline": "middle", "fontSize": 29, "color": "#ff0000"},
          "encoding": {"text": {"field": "label"}}
        },
        {
          "data": {"values": [{"time": 1334, "phase": 0.1413, "label": "50 nJ"}]},
          "mark": {"type": "text", "align": "right", "baseline": "middle", "fontSize": 29, "color": "#ffc000"},
          "encoding": {"text": {"field": "label"}}
        },
        {
          "data": {"values": [{"time": 1259, "phase": 0.058, "label": "20 nJ"}]},
          "mark": {"type": "text", "align": "right", "baseline": "middle", "fontSize": 29, "color": "#00b050"},
          "encoding": {"text": {"field": "label"}}
        },
        {
          "data": {"values": [{"time": 1259, "phase": -0.0195, "label": "10 nJ"}]},
          "mark": {"type": "text", "align": "right", "baseline": "middle", "fontSize": 29, "color": "#0070c0"},
          "encoding": {"text": {"field": "label"}}
        }
      ]
    },
    {
      "width": 436,
      "height": 418,
      "view": {"fill": "#f2dcdb", "stroke": "#808080", "strokeWidth": 2},
      "encoding": {
        "x": {
          "field": "time", "type": "quantitative",
          "scale": {"type": "log", "domain": [0.01, 3000], "nice": false},
          "axis": {
            "title": "Time (ps)",
            "values": [0.01,0.02,0.03,0.04,0.05,0.06,0.07,0.08,0.09,0.1,0.2,0.3,0.4,0.5,0.6,0.7,0.8,0.9,1,2,3,4,5,6,7,8,9,10,20,30,40,50,60,70,80,90,100,200,300,400,500,600,700,800,900,1000,2000],
            "format": "~g",
            "labelExpr": "indexof([0.01,0.1,1,10,100,1000], datum.value) >= 0 ? datum.label : ''",
            "labelOverlap": false,
            "labelFlush": false,
            "tickSize": -7,
            "labelPadding": 19,
            "titlePadding": 8
          }
        },
        "y": {
          "field": "phase", "type": "quantitative",
          "scale": {"domain": [-0.05, 0.25], "nice": false, "zero": false},
          "axis": {
            "title": null,
            "values": [-0.05, 0, 0.05, 0.1, 0.15, 0.2, 0.25],
            "format": ".2f",
            "labelExpr": "replace(datum.label, '−', '-')",
            "tickSize": -10,
            "labelPadding": 20,
            "labelOffset": -10
          }
        }
      },
      "layer": [
        {
          "data": {"name": "curves"},
          "transform": [{"filter": "datum.panel === '800nm'"}],
          "mark": {"type": "line", "strokeWidth": 4.5, "clip": true, "strokeJoin": "round"},
          "encoding": {
            "color": {
              "field": "series", "type": "nominal",
              "scale": {"domain": ["100 nJ", "50 nJ", "20 nJ", "10 nJ"], "range": ["#ff0000", "#ffc000", "#00b050", "#0000ff"]},
              "legend": null
            }
          }
        },
        {
          "data": {"values": [{"time": 0.335, "phase": 0.1517}]},
          "mark": {
            "type": "point",
            "shape": "M -0.17 -1 L 0.17 -1 L 0.17 0.57 L 0.31 0.57 L 0 1 L -0.31 0.57 L -0.17 0.57 Z",
            "filled": true,
            "fill": "#ffff00",
            "stroke": "#7f7f7f",
            "strokeWidth": 1,
            "size": 4225,
            "angle": 338,
            "opacity": 1
          }
        },
        {
          "data": {"values": [{"time": 0.015, "phase": 0.2299, "label": "800nm"}]},
          "mark": {"type": "text", "align": "left", "baseline": "middle", "fontSize": 36, "color": "#ff0000"},
          "encoding": {"text": {"field": "label"}}
        },
        {
          "data": {"values": [{"time": 2304, "phase": 0.2313, "label": "(b)"}]},
          "mark": {"type": "text", "align": "right", "baseline": "middle", "fontSize": 32, "color": "black"},
          "encoding": {"text": {"field": "label"}}
        }
      ]
    }
  ]
}
